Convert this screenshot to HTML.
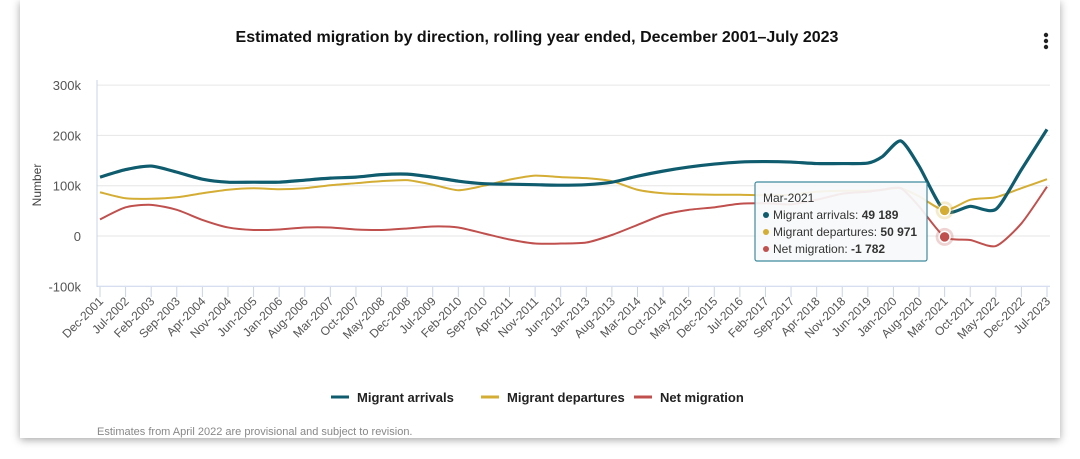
<!DOCTYPE html>
<html><head><meta charset="utf-8"><style>
body{margin:0;width:1080px;height:459px;background:#fff;font-family:"Liberation Sans",sans-serif;overflow:hidden;position:relative}
.card{position:absolute;left:20px;top:0;width:1040px;height:438px;background:#fff;box-shadow:0 2px 8px rgba(0,0,0,0.35)}
</style></head><body>
<div class="card"></div>
<svg id="chart" width="1080" height="459" style="position:absolute;left:0;top:0">
<text x="537" y="42" text-anchor="middle" font-size="16" font-weight="bold" fill="#111">Estimated migration by direction, rolling year ended, December 2001–July 2023</text>
<g fill="#222"><circle cx="1046" cy="35" r="2.2"/><circle cx="1046" cy="41" r="2.2"/><circle cx="1046" cy="47" r="2.2"/></g>
<text transform="translate(41,185) rotate(-90)" text-anchor="middle" font-size="12" fill="#444">Number</text>
<g id="grid"></g><g id="xaxis"></g><g id="series"></g><g id="tip"></g>
<g font-size="13" font-weight="bold" fill="#222">
<g><line x1="331" y1="397" x2="349" y2="397" stroke="#0f5c6e" stroke-width="3"/><text x="357" y="402">Migrant arrivals</text></g>
<g><line x1="481" y1="397" x2="499" y2="397" stroke="#d4ad34" stroke-width="3"/><text x="507" y="402">Migrant departures</text></g>
<g><line x1="634" y1="397" x2="652" y2="397" stroke="#c0504d" stroke-width="3"/><text x="660" y="402">Net migration</text></g>
</g>
<text x="97" y="435" font-size="11" fill="#888">Estimates from April 2022 are provisional and subject to revision.</text>
</svg>
<script>
const tickLabels=["Dec-2001","Jul-2002","Feb-2003","Sep-2003","Apr-2004","Nov-2004","Jun-2005","Jan-2006","Aug-2006","Mar-2007","Oct-2007","May-2008","Dec-2008","Jul-2009","Feb-2010","Sep-2010","Apr-2011","Nov-2011","Jun-2012","Jan-2013","Aug-2013","Mar-2014","Oct-2014","May-2015","Dec-2015","Jul-2016","Feb-2017","Sep-2017","Apr-2018","Nov-2018","Jun-2019","Jan-2020","Aug-2020","Mar-2021","Oct-2021","May-2022","Dec-2022","Jul-2023"];
const yTicks=[300,200,100,0,-100];
const months=[0,7,14,21,28,35,42,49,56,63,70,77,84,91,98,105,112,119,126,133,140,147,154,161,168,175,182,189,196,203,210,214,219,224,231,238,245,252,259];
const arrivals=[117,132,139,127,113,107,107,107,111,115,117,122,123,117,109,104,103,102,101,102,107,119,129,137,143,147,148,147,144,144,145,158,189,139,49.2,59,53,132,212];
const departures=[87,75,74,77,85,92,95,93,95,101,105,109,111,102,91,100,112,120,117,115,109,92,85,83,82,82,81,82,88,90,90,92,95,79,51.0,72,77,95,113];
const net=[33,57,62,52,32,17,12,13,17,17,13,12,15,19,17,5,-7,-15,-15,-13,2,22,42,52,57,64,65,63,72,84,88,92,95,59,-1.8,-8,-20,25,98];
const X=m=>100+m*(947/259), Y=v=>236-v*0.503;
const NS="http://www.w3.org/2000/svg";
function mk(t,a,p){const e=document.createElementNS(NS,t);for(const k in a)e.setAttribute(k,a[k]);p.appendChild(e);return e;}
const grid=document.getElementById('grid');
yTicks.forEach(v=>{
 const l=mk('line',{x1:97,x2:1050,y1:Y(v),y2:Y(v),stroke:v===-100?'#c8d4ea':'#e6e6e6','stroke-width':1},grid);
 
 
 const t=mk('text',{x:81,y:Y(v)+5,'text-anchor':'end','font-size':13,fill:'#555'},grid);
 t.textContent=(v===0?'0':v+'k');
 
 
});
mk('line',{x1:97,x2:97,y1:80,y2:287,stroke:'#c8d4ea'},grid);
const xa=document.getElementById('xaxis');
tickLabels.forEach((s,i)=>{
 const x=X(i*7);
 mk('line',{x1:x,x2:x,y1:287,y2:297,stroke:'#c8d4ea'},xa);
 const t=mk('text',{transform:`translate(${x+4},${302}) rotate(-45)`,'text-anchor':'end','font-size':12,fill:'#555'},xa);
 t.textContent=s;
 
 
});
function path(vals){
 const p=months.map((m,i)=>[X(m),Y(vals[i])]);
 let d=`M${p[0][0]},${p[0][1]}`;
 for(let i=0;i<p.length-1;i++){
  const p0=p[Math.max(i-1,0)],p1=p[i],p2=p[i+1],p3=p[Math.min(i+2,p.length-1)];
  const k=0.12;
  d+=`C${p1[0]+(p2[0]-p0[0])*k},${p1[1]+(p2[1]-p0[1])*k} ${p2[0]-(p3[0]-p1[0])*k},${p2[1]-(p3[1]-p1[1])*k} ${p2[0]},${p2[1]}`;
 }
 return d;
}
const ser=document.getElementById('series');
[[departures,'#d4ad34',2,'departures-line'],[net,'#c0504d',2,'net-migration-line'],[arrivals,'#0f5c6e',3.2,'arrivals-line']].forEach(([v,c,w,n])=>{
 const e=mk('path',{d:path(v),fill:'none',stroke:c,'stroke-width':w,'stroke-linejoin':'round'},ser);
 
 
});
const hi=34,tip=document.getElementById('tip'),hx=X(months[hi]);
mk('circle',{cx:hx,cy:Y(departures[hi]),r:9,fill:'#d4ad34',opacity:0.25},tip);
mk('circle',{cx:hx,cy:Y(departures[hi]),r:5.5,fill:'#d4ad34',stroke:'#fff','stroke-width':1.5},tip);
mk('circle',{cx:hx,cy:Y(net[hi]),r:9,fill:'#c0504d',opacity:0.25},tip);
mk('circle',{cx:hx,cy:Y(net[hi]),r:5.5,fill:'#c0504d',stroke:'#fff','stroke-width':1.5},tip);
const box=mk('rect',{x:755,y:182,width:172,height:79,rx:2,fill:'rgba(247,249,250,0.92)',stroke:'#3f8a9c','stroke-width':1.2},tip);


const tt=mk('text',{x:763,y:202,'font-size':12,fill:'#333'},tip);tt.textContent='Mar-2021';
const rows=[['#0f5c6e','Migrant arrivals: ','49 189'],['#d4ad34','Migrant departures: ','50 971'],['#c0504d','Net migration: ','-1 782']];
rows.forEach((r,i)=>{
 const y=219+i*17;
 mk('circle',{cx:766,cy:y-4,r:3,fill:r[0]},tip);
 const t=mk('text',{x:773,y:y,'font-size':12,fill:'#333'},tip);
 t.textContent=r[1];
 const b=mk('tspan',{'font-weight':'bold'},t);b.textContent=r[2];
});
</script>
</body></html>
